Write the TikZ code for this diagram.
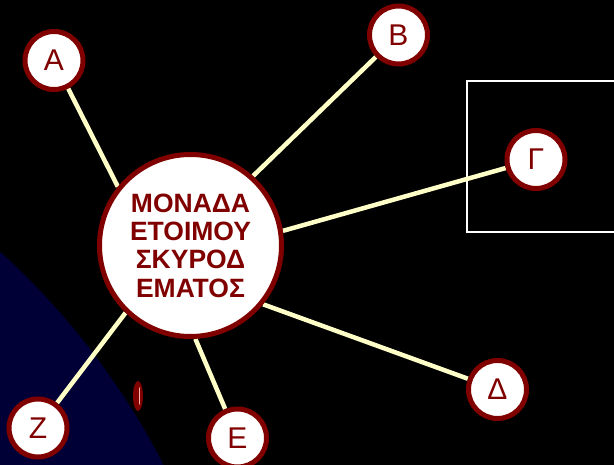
\documentclass[tikz,border=0pt]{standalone}
\usepackage{fontspec}
\setmainfont{Liberation Sans}
\usetikzlibrary{backgrounds}
\definecolor{dred}{RGB}{128,0,0}
\definecolor{cream}{RGB}{255,255,200}
\definecolor{navy}{RGB}{0,0,55}
\tikzset{
  mainnode/.style={circle, draw=dred, line width=5pt, fill=white, minimum size=182pt, inner sep=0pt,
    align=center, text=dred, font=\fontsize{26.5}{28.3}\selectfont\bfseries},
  satnode/.style={circle, draw=dred, line width=5pt, fill=white, minimum size=58pt, inner sep=0pt,
    text=dred, font=\fontsize{30}{30}\selectfont},
  spoke/.style={draw=cream, line width=4.5pt}
}
\begin{document}
\begin{tikzpicture}[x=1pt,y=-1pt]
\useasboundingbox (0,0) rectangle (614,465);

\node[mainnode] (m) at (190.5,245.5) {ΜΟΝΑΔΑ\\ΕΤΟΙΜΟΥ\\ΣΚΥΡΟΔ\\ΕΜΑΤΟΣ};
\node[satnode] (a) at (54,60.5) {Α};
\node[satnode] (b) at (398.5,35) {Β};
\node[satnode] (g) at (536,159.5) {Γ};
\node[satnode] (d) at (497.5,389.5) {Δ};
\node[satnode] (e) at (237.5,438) {Ε};
\node[satnode] (z) at (38,428) {Ζ};

\begin{scope}[on background layer]
\fill[black] (0,0) rectangle (614,465);
\begin{scope}
\clip (0,0) rectangle (614,465);
\fill[navy] (-504,807) circle (750pt);
\end{scope}
\draw[white, line width=2pt] (467,81) rectangle (620,232);
\fill[dred] (138,396) ellipse (5pt and 15pt);
\draw[red!30!white, line width=1.3pt, line cap=round] (139.8,388) -- (139.8,404);
\draw[spoke] (m.141.8) -- (a);
\draw[spoke] (m.48) -- (b);
\draw[spoke] (m.9.3) -- (g);
\draw[spoke] (m.-39) -- (d);
\draw[spoke] (m.-87.3) -- (e);
\draw[spoke] (m.-134) -- (z);
\end{scope}
\end{tikzpicture}
\end{document}
